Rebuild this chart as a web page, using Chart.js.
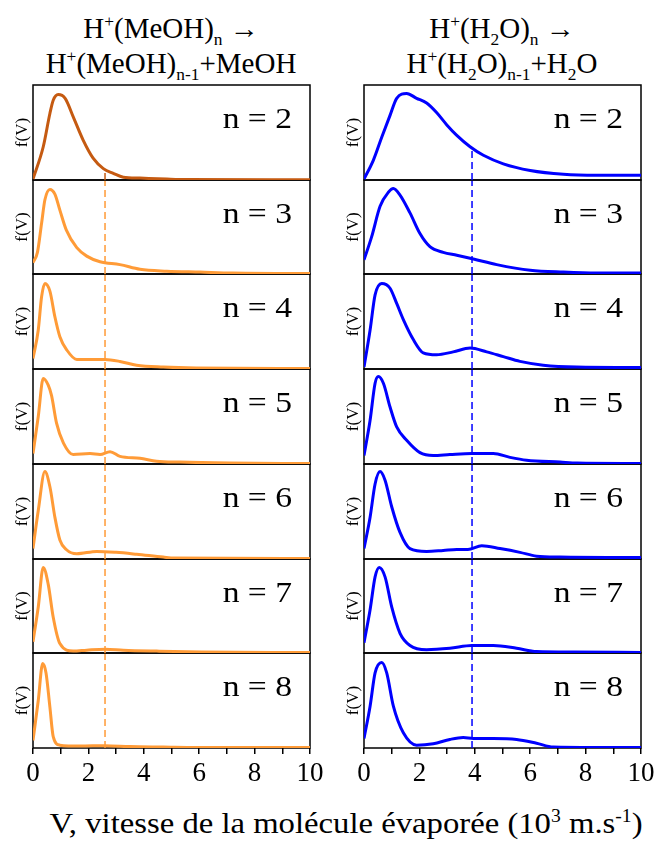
<!DOCTYPE html>
<html>
<head>
<meta charset="utf-8">
<script src="https://cdn.jsdelivr.net/npm/chart.js@4.4.1/dist/chart.umd.min.js"></script>
<style>
  html, body { margin: 0; padding: 0; background: #fff; overflow: hidden; }
  body { width: 654px; height: 847px; position: relative; font-family: "Liberation Serif", serif; color: #000; }
  .panel { position: absolute; }
  .title { position: absolute; text-align: center; font-size: 29px; line-height: 35px; white-space: nowrap; }
  .title sup, .title sub, .xtitle sup { font-size: 60%; line-height: 0; }
  .xtitle { position: absolute; left: 0; width: 692px; top: 806px; text-align: center; font-size: 30px; white-space: nowrap; transform: scaleX(1.09); transform-origin: 346px 0; }
</style>
</head>
<body>
<div class="title" style="left:21px;width:300px;top:11px">H<sup>+</sup>(MeOH)<sub>n</sub> &#8594;<br>H<sup>+</sup>(MeOH)<sub>n-1</sub>+MeOH</div>
<div class="title" style="left:352px;width:300px;top:11px">H<sup>+</sup>(H<sub>2</sub>O)<sub>n</sub> &#8594;<br>H<sup>+</sup>(H<sub>2</sub>O)<sub>n-1</sub>+H<sub>2</sub>O</div>
<div class="xtitle">V, vitesse de la molécule évaporée (10<sup>3</sup> m.s<sup>-1</sup>)</div>

<script>
// cluster sizes, one panel per size
const nLabels = [2, 3, 4, 5, 6, 7, 8];
const xTicks = [0, 2, 4, 6, 8, 10];

// H+(MeOH)n : [V (10^3 m/s), f(V) normalised]
const meoh2 = [[0,0.01],[0.37,0.35],[0.61,0.70],[0.73,0.84],[0.91,0.90],[1.16,0.86],[1.46,0.66],[1.81,0.42],[2.17,0.23],[2.54,0.12],[2.9,0.07],[3.26,0.03],[3.86,0.02],[4.83,0.01],[5.55,0.005],[10,0.003]];
const meoh3 = [[0,0.12],[0.16,0.23],[0.31,0.54],[0.43,0.79],[0.61,0.90],[0.79,0.85],[0.97,0.68],[1.2,0.47],[1.58,0.28],[1.94,0.19],[2.42,0.13],[3.14,0.10],[3.86,0.05],[4.83,0.03],[6.03,0.02],[7.2,0.01],[9.4,0.005],[10,0.005]];
const meoh4 = [[0,0.11],[0.19,0.41],[0.31,0.76],[0.43,0.90],[0.61,0.82],[0.79,0.55],[0.97,0.34],[1.22,0.20],[1.58,0.10],[2.06,0.10],[2.6,0.10],[3.14,0.08],[3.74,0.04],[4.7,0.02],[5.9,0.01],[10,0.005]];
const meoh5 = [[0,0.11],[0.19,0.50],[0.37,0.90],[0.55,0.83],[0.67,0.72],[0.85,0.43],[1.1,0.22],[1.45,0.10],[2.06,0.11],[2.42,0.10],[2.78,0.13],[3.14,0.08],[3.86,0.06],[4.46,0.03],[5.3,0.02],[7.1,0.01],[10,0.005]];
const meoh6 = [[0,0.11],[0.19,0.51],[0.43,0.92],[0.61,0.76],[0.79,0.44],[0.97,0.20],[1.2,0.10],[1.58,0.055],[2.3,0.08],[3.0,0.07],[3.74,0.05],[4.7,0.02],[5.1,0.01],[10,0.005]];
const meoh7 = [[0,0.12],[0.19,0.49],[0.37,0.91],[0.55,0.73],[0.73,0.38],[0.97,0.10],[1.45,0.02],[1.94,0.03],[2.6,0.04],[3.26,0.03],[4.46,0.02],[6.1,0.01],[10,0.005]];
const meoh8 = [[0,0.08],[0.19,0.50],[0.35,0.89],[0.47,0.79],[0.61,0.43],[0.73,0.12],[0.97,0.03],[1.7,0.02],[2.6,0.025],[3.5,0.015],[4.7,0.01],[5.9,0.005],[10,0.005]];

// H+(H2O)n
const water2 = [[0,0.01],[0.34,0.21],[0.64,0.45],[0.94,0.68],[1.18,0.86],[1.54,0.91],[1.9,0.86],[2.26,0.81],[2.62,0.71],[2.99,0.58],[3.35,0.47],[3.83,0.35],[4.31,0.26],[5.03,0.17],[6.0,0.10],[7.2,0.06],[8.4,0.05],[10,0.05]];
const water3 = [[0,0.15],[0.28,0.40],[0.58,0.72],[0.88,0.87],[1.06,0.91],[1.3,0.84],[1.66,0.65],[2.02,0.43],[2.38,0.29],[2.86,0.23],[3.35,0.20],[3.95,0.16],[4.79,0.10],[6.0,0.04],[7.2,0.02],[8.4,0.01],[10,0.01]];
const water4 = [[0,0.02],[0.22,0.41],[0.4,0.78],[0.64,0.90],[0.94,0.85],[1.18,0.69],[1.42,0.52],[1.78,0.31],[2.14,0.17],[2.62,0.15],[3.22,0.18],[3.83,0.22],[4.43,0.18],[5.03,0.13],[5.63,0.08],[6.47,0.04],[7.68,0.02],[10,0.015]];
const water5 = [[0,0.09],[0.22,0.46],[0.4,0.85],[0.52,0.92],[0.7,0.85],[0.94,0.60],[1.18,0.39],[1.54,0.25],[2.02,0.12],[2.5,0.09],[3.1,0.10],[3.89,0.11],[4.67,0.11],[5.27,0.07],[5.87,0.04],[7.08,0.02],[7.7,0.01],[10,0.005]];
const water6 = [[0,0.11],[0.22,0.44],[0.4,0.79],[0.58,0.92],[0.76,0.83],[1.0,0.55],[1.3,0.28],[1.66,0.11],[2.26,0.08],[2.86,0.09],[3.35,0.10],[3.75,0.10],[4.25,0.14],[4.91,0.11],[5.63,0.07],[6.23,0.03],[7.08,0.02],[10,0.015]];
const water7 = [[0,0.11],[0.22,0.46],[0.4,0.81],[0.55,0.91],[0.76,0.81],[1.0,0.49],[1.3,0.21],[1.66,0.08],[2.26,0.035],[3.1,0.05],[3.89,0.08],[4.67,0.08],[5.51,0.05],[6.23,0.015],[7.6,0.01],[10,0.005]];
const water8 = [[0,0.10],[0.22,0.44],[0.4,0.79],[0.64,0.90],[0.82,0.79],[1.06,0.44],[1.42,0.16],[1.9,0.03],[2.5,0.045],[3.1,0.09],[3.58,0.11],[3.95,0.10],[4.67,0.10],[5.51,0.09],[6.23,0.05],[6.83,0.01],[8.3,0.005],[10,0.005]];

// dashed marker: V position, and where it starts in the n=2 panel
const meohMark = 2.6, meohMarkTop = 0.1;
const waterMark = 3.9, waterMarkTop = 0.33;

const meohSeries = [meoh2, meoh3, meoh4, meoh5, meoh6, meoh7, meoh8];
const waterSeries = [water2, water3, water4, water5, water6, water7, water8];

// layout
const panelTop = 85, panelH = 94.7, axisW = 33, plotW = 277, padR = 20, xAxisH = 50;

// frame + "n = k" label
const framePlugin = {
    id: 'frame',
    beforeDatasetsDraw(chart) {
        const a = chart.chartArea, ctx = chart.ctx;
        ctx.save();
        ctx.strokeStyle = '#000';
        ctx.lineWidth = 1.5;
        ctx.strokeRect(a.left, a.top, a.right - a.left, a.bottom - a.top);
        ctx.restore();
    },
    afterDraw(chart) {
        const a = chart.chartArea, ctx = chart.ctx;
        ctx.save();
        ctx.font = '30px "Liberation Serif"';
        ctx.fillStyle = '#000';
        ctx.textAlign = 'right';
        ctx.textBaseline = 'alphabetic';
        ctx.translate(a.right - 18, a.top + 43);
        ctx.scale(1.12, 1);
        ctx.fillText(chart.options.plugins.frame.label, 0, 0);
        ctx.restore();
    }
};

function makePanel(colLeft, i, series, color, mark, markTop) {
    const isLast = i === nLabels.length - 1;
    const top = Math.round(panelTop + i * panelH);
    const bottom = Math.round(panelTop + (i + 1) * panelH);
    const h = bottom - top + 4 + (isLast ? xAxisH - 2 : 0);

    const div = document.createElement('div');
    div.className = 'panel';
    div.style.left = (colLeft - axisW) + 'px';
    div.style.top = (top - 2) + 'px';
    div.style.zIndex = 20 - i;
    const canvas = document.createElement('canvas');
    canvas.width = axisW + plotW + padR;
    canvas.height = h;
    div.appendChild(canvas);
    document.body.appendChild(div);

    new Chart(canvas, {
        type: 'line',
        data: {
            datasets: [{
                data: series.map(p => ({ x: p[0], y: p[1] })),
                borderColor: color,
                borderWidth: 3,
                pointRadius: 0,
                cubicInterpolationMode: 'monotone'
            }, {
                data: [{ x: mark, y: 0 }, { x: mark, y: i === 0 ? markTop : 1 }],
                borderColor: color,
                borderWidth: 1.5,
                borderDash: [7, 4],
                pointRadius: 0
            }]
        },
        options: {
            responsive: false,
            animation: false,
            layout: { padding: { top: 2, right: padR, bottom: isLast ? 0 : 2, left: 0 } },
            plugins: {
                legend: { display: false },
                tooltip: { enabled: false },
                frame: { label: 'n = ' + nLabels[i] }
            },
            scales: {
                x: {
                    type: 'linear',
                    min: 0,
                    max: 10,
                    display: isLast,
                    border: { display: false },
                    grid: { drawOnChartArea: false, drawTicks: true, tickLength: 6, color: '#000', lineWidth: 1.5 },
                    ticks: {
                        stepSize: 1,
                        autoSkip: false,
                        maxRotation: 0,
                        padding: 4,
                        color: '#000',
                        font: { family: 'Liberation Serif', size: 27 },
                        callback: v => xTicks.includes(v) ? v : ''
                    },
                    afterFit(s) {
                        if (!isLast) return;
                        s.height = xAxisH; s.paddingLeft = 0; s.paddingRight = 0;
                    }
                },
                y: {
                    min: 0,
                    max: 1,
                    grid: { display: false },
                    border: { display: false },
                    ticks: { display: false },
                    title: {
                        display: true,
                        text: 'f(V)',
                        color: '#000',
                        font: { family: 'Liberation Serif', size: 17 },
                        padding: { top: 12, bottom: 0 }
                    },
                    afterFit(s) { s.width = axisW; }
                }
            }
        },
        plugins: [framePlugin]
    });
}

nLabels.forEach((n, i) => {
    makePanel(33, i, meohSeries[i], i === 0 ? '#C55A11' : '#FF9B37', meohMark, meohMarkTop);
    makePanel(364, i, waterSeries[i], '#0000FF', waterMark, waterMarkTop);
});
</script>
</body>
</html>
